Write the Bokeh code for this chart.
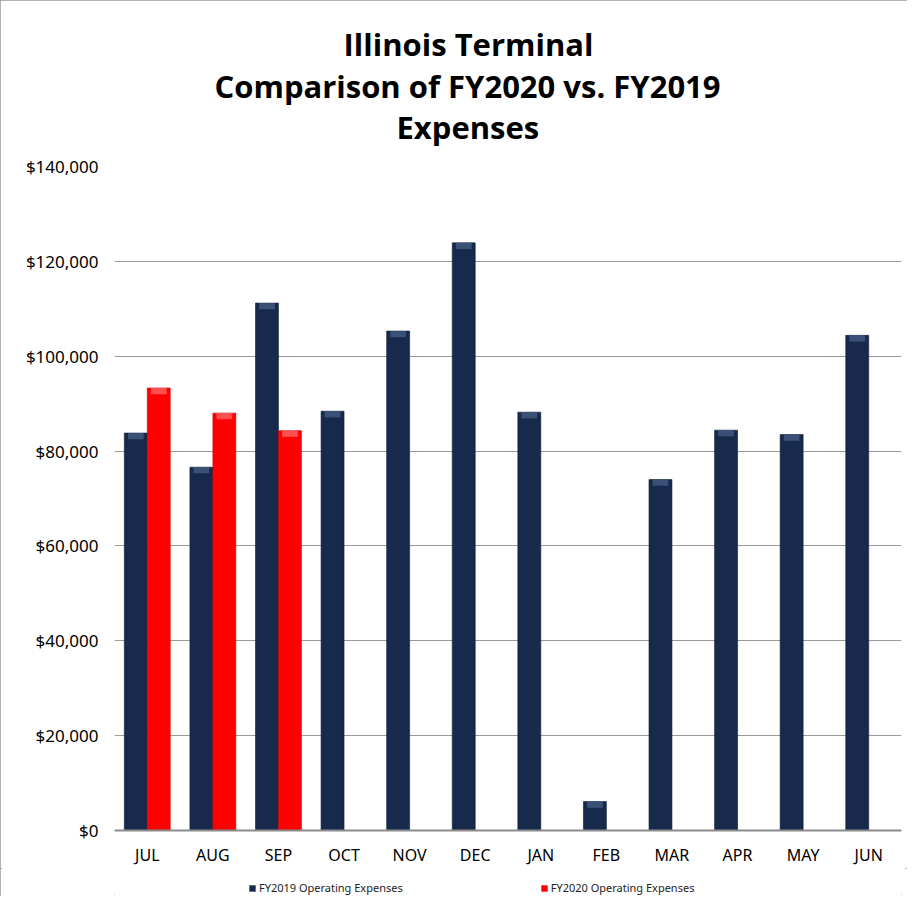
from bokeh.plotting import figure
from bokeh.layouts import column
from bokeh.models import (ColumnDataSource, FactorRange, NumeralTickFormatter, FixedTicker,
                          Title, Legend, LegendItem, Range1d)
from bokeh.transform import dodge
from bokeh.embed import file_html
from bokeh.resources import INLINE

months = ["JUL", "AUG", "SEP", "OCT", "NOV", "DEC", "JAN", "FEB", "MAR", "APR", "MAY", "JUN"]
fy2019 = [83800, 76600, 111200, 88400, 105300, 123900, 88200, 6100, 74000, 84400, 83500, 104400]
fy2020_months = ["JUL", "AUG", "SEP"]
fy2020 = [93300, 88000, 84300]
y_ticks = [0, 20000, 40000, 60000, 80000, 100000, 120000, 140000]
series_names = ["FY2019 Operating Expenses", "FY2020 Operating Expenses"]

NAVY = "#172a4b"
RED = "#ff0000"
BEVEL = 1300  # height of top highlight in data units

src19 = ColumnDataSource(dict(month=months, value=fy2019,
                              cap=[v - BEVEL for v in fy2019]))
src20 = ColumnDataSource(dict(month=fy2020_months, value=fy2020,
                              cap=[v - BEVEL for v in fy2020]))

x_range = FactorRange(*months)

p = figure(width=907, height=868,
           x_range=x_range, y_range=Range1d(0, 140000),
           output_backend="svg", toolbar_location=None,
           min_border_left=114, min_border_right=6, min_border_top=166, min_border_bottom=36)
p.outline_line_color = None
p.background_fill_color = "white"
p.border_fill_color = "white"

# bars
p.vbar(x=dodge("month", -0.175, range=x_range), top="value", bottom=0, width=0.35,
       source=src19, fill_color=NAVY, line_color="#0e1a30", line_width=0.6)
p.vbar(x=dodge("month", -0.175, range=x_range), top="value", bottom="cap", width=0.24,
       source=src19, fill_color="#4a6189", line_color=None, fill_alpha=0.7)
p.vbar(x=dodge("month", 0.175, range=x_range), top="value", bottom=0, width=0.35,
       source=src20, fill_color=RED, line_color="#c80000", line_width=0.6)
p.vbar(x=dodge("month", 0.175, range=x_range), top="value", bottom="cap", width=0.24,
       source=src20, fill_color="#ff7070", line_color=None, fill_alpha=0.7)

# axes
p.yaxis.ticker = FixedTicker(ticks=y_ticks)
p.yaxis.formatter = NumeralTickFormatter(format="$0,0")
p.yaxis.axis_line_color = None
p.yaxis.major_tick_line_color = None
p.yaxis.major_tick_out = 0
p.yaxis.minor_tick_line_color = None
p.yaxis.minor_tick_out = 0
p.yaxis.major_label_standoff = 16
p.yaxis.major_label_text_font = "Noto Sans"
p.yaxis.major_label_text_font_size = "17px"
p.yaxis.major_label_text_color = "#000000"

p.xaxis.axis_line_color = "#8c8c8c"
p.xaxis.axis_line_width = 2
p.xaxis.major_tick_line_color = None
p.xaxis.major_tick_out = 0
p.xaxis.minor_tick_line_color = None
p.xaxis.minor_tick_out = 0
p.xaxis.major_label_standoff = 13
p.xaxis.major_label_text_font = "Noto Sans"
p.xaxis.major_label_text_font_size = "16px"
p.xaxis.major_label_text_color = "#000000"

p.xgrid.grid_line_color = None
p.ygrid.grid_line_color = "#9a9a9a"
p.ygrid.grid_line_width = 1

# titles (last added is on top)
tkw = dict(align="left", text_font="Open Sans", text_font_size="31px",
           text_font_style="bold", text_color="#000000")
p.add_layout(Title(text="Expenses", standoff=38, offset=282, **tkw), "above")
p.add_layout(Title(text="Comparison of FY2020 vs. FY2019", standoff=-44, offset=100, **tkw), "above")
p.add_layout(Title(text="Illinois Terminal", standoff=36, offset=229, vertical_align="top", **tkw),
             "above")

# legend strip (hidden renderers, only their legend entries show)
lp = figure(width=907, height=28, x_range=x_range, y_range=Range1d(0, 1),
            output_backend="svg", toolbar_location=None,
            min_border_left=0, min_border_right=0, min_border_top=0, min_border_bottom=0,
            x_axis_type=None, y_axis_type=None)
lp.outline_line_color = None
lp.grid.visible = False
lp.border_fill_color = "white"
lp.background_fill_color = "white"
l19 = lp.vbar(x=dodge("month", -0.175, range=x_range), top="value", bottom=0, width=0.35,
              source=src19, fill_color=NAVY, line_color=None, visible=False)
l20 = lp.vbar(x=dodge("month", 0.175, range=x_range), top="value", bottom=0, width=0.35,
              source=src20, fill_color=RED, line_color=None, visible=False)
legend = Legend(items=[LegendItem(label=series_names[0], renderers=[l19]),
                       LegendItem(label=series_names[1], renderers=[l20])],
                orientation="horizontal", location=(134, 1), spacing=137,
                glyph_width=8, glyph_height=8, label_standoff=3,
                label_height=10, padding=0, margin=0,
                label_text_font="Noto Sans", label_text_font_size="11px",
                label_text_color="#222222", border_line_color=None,
                background_fill_alpha=0, inactive_fill_alpha=0)
lp.add_layout(legend, "center")

layout = column(p, lp, spacing=0,
                styles={"outline": "2px solid #9a9a9a", "outline-offset": "-2px"})

open("out.html", "w").write(file_html(layout, INLINE))
